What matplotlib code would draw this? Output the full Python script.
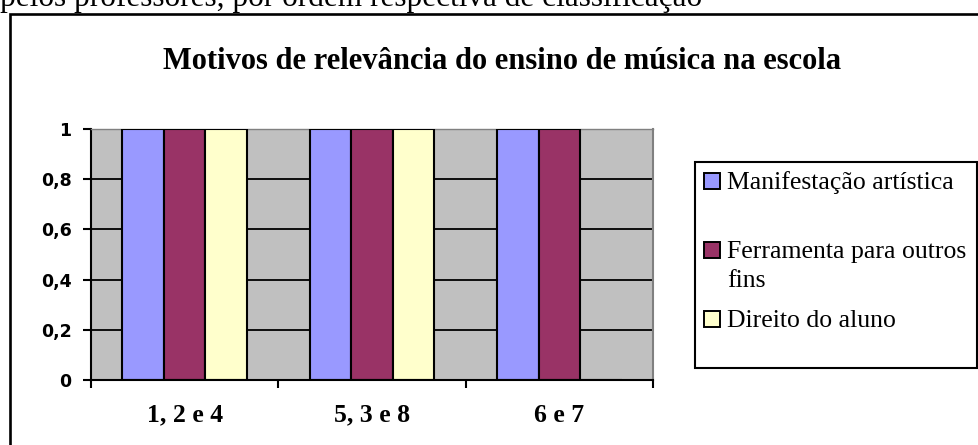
import textwrap
import matplotlib
matplotlib.use("Agg")
import matplotlib.pyplot as plt
from matplotlib.patches import Rectangle

# ---- data ----
categories = ["1, 2 e 4", "5, 3 e 8", "6 e 7"]
series_names = ["Manifestação artística", "Ferramenta para outros fins", "Direito do aluno"]
manifestacao = [1, 1, 1]
ferramenta = [1, 1, 1]
direito = [1, 1, 0]
series_values = [manifestacao, ferramenta, direito]
series_colors = ["#9999FF", "#993366", "#FFFFCC"]
y_ticks = [0, 0.2, 0.4, 0.6, 0.8, 1]
y_tick_labels = ["0", "0,2", "0,4", "0,6", "0,8", "1"]
title = "Motivos de relevância do ensino de música na escola"
caption = "pelos professores, por ordem respectiva de classificação"

W, H = 979, 445
fig = plt.figure(figsize=(W / 100, H / 100), dpi=100)
fig.patch.set_facecolor("white")


def fx(px):
    return px / W


def fy(py):
    return 1 - py / H


serif = ["Liberation Serif", "DejaVu Serif"]

# caption text cut at the top
fig.text(fx(0), fy(6), caption, family=serif, fontsize=22.5, va="baseline", ha="left")

# outer frame
fig.add_artist(Rectangle((fx(9.5), fy(H + 40)), 1.2, fy(13.5) - fy(H + 40),
                         transform=fig.transFigure, fill=False, lw=1.9,
                         ec="black", clip_on=False))

# title
fig.text(fx(502), fy(69), title, family=serif, fontsize=22, fontweight="bold",
         ha="center", va="baseline")

# axes
ax = fig.add_axes([fx(91), fy(380), fx(653) - fx(91), fy(129) - fy(380)])
ax.set_facecolor("#C0C0C0")
n = len(series_values)
bw = 1 / (n + 1.5)
centers = [i + 0.5 for i in range(len(categories))]
for k, (vals, col) in enumerate(zip(series_values, series_colors)):
    xs = [c + (k - (n - 1) / 2) * bw for c in centers]
    ax.bar(xs, vals, width=bw, color=col, edgecolor="black", linewidth=1.5, zorder=3)

ax.set_xlim(0, len(categories))
ax.set_ylim(0, 1)
ax.set_yticks(y_ticks)
ax.set_yticklabels(y_tick_labels)
ax.yaxis.grid(True, color="black", linewidth=1.3, zorder=1)
ax.set_axisbelow(True)
ax.set_xticks(range(len(categories) + 1))
ax.set_xticklabels([])
ax.set_xticks(centers, minor=True)
ax.set_xticklabels(categories, minor=True)
ax.tick_params(axis="x", which="major", length=6, width=1.5, direction="out")
ax.tick_params(axis="x", which="minor", length=0, pad=17)
ax.tick_params(axis="y", length=6, width=1.5, direction="out", pad=8)
for lab in ax.get_xticklabels(minor=True):
    lab.set_family(serif)
    lab.set_fontsize(18.5)
    lab.set_fontweight("bold")
for lab in ax.get_yticklabels():
    lab.set_family("DejaVu Sans")
    lab.set_fontsize(12.5)
    lab.set_fontweight("bold")
ax.spines["left"].set_linewidth(1.5)
ax.spines["bottom"].set_linewidth(1.5)
ax.spines["right"].set_color("#808080")
ax.spines["right"].set_linewidth(1.5)
ax.spines["top"].set_color("#808080")
ax.spines["top"].set_linewidth(1.0)
ax.spines["bottom"].set_zorder(4)

# legend (manual, mimicking Excel layout)
fig.add_artist(Rectangle((fx(695), fy(368)), fx(977) - fx(695), fy(162) - fy(368),
                         transform=fig.transFigure, fc="white", ec="black", lw=1.5))
baselines = [189, 258, 327]
line_h = 29
for name, col, base in zip(series_names, series_colors, baselines):
    fig.add_artist(Rectangle((fx(704), fy(base)), fx(16), fy(0) - fy(16),
                             transform=fig.transFigure, fc=col, ec="black", lw=1.4))
    for j, line in enumerate(textwrap.wrap(name, 22)):
        fig.text(fx(727), fy(base + j * line_h), line, family=serif, fontsize=18.5,
                 ha="left", va="baseline")

fig.savefig("out.png", dpi=100)
